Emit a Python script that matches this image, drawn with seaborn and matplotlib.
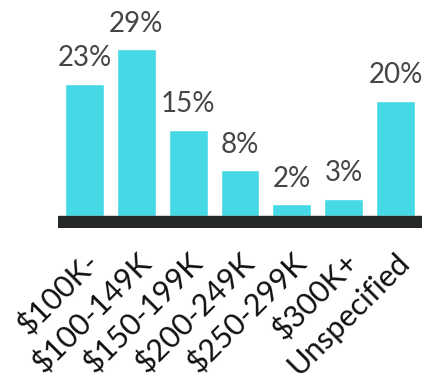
import matplotlib
matplotlib.use("Agg")
import matplotlib.pyplot as plt
import seaborn as sns
import pandas as pd

categories = ["$100K-", "$100-149K", "$150-199K", "$200-249K",
              "$250-299K", "$300K+", "Unspecified"]
shares = [23, 29, 15, 8, 2, 3, 20]

df = pd.DataFrame({"income": categories, "share": shares})

sns.set_style("white")
plt.rcParams["font.family"] = ["Lato", "DejaVu Sans"]

fig = plt.figure(figsize=(4.38, 3.79), dpi=100)
W, H = 438, 379
left, right, bottom, top = 58, 422, 228, 10
ax = fig.add_axes([left / W, (H - bottom) / H, (right - left) / W, (bottom - top) / H])

bar_color = "#44d9e5"
sns.barplot(data=df, x="income", y="share", color=bar_color, width=0.75,
            saturation=1, ax=ax, zorder=2)

px_per_unit = (216 - 49) / 29.0
base_h = 12 / px_per_unit
ax.set_xlim(-0.51, len(categories) - 0.49)
ax.set_ylim(-base_h, (216 - top) / px_per_unit)
ax.axhspan(-base_h, 0, color="#252a27", zorder=3)

for i, v in enumerate(shares):
    ax.annotate(f"{v}%", (i, v), xytext=(0, 12.5), textcoords="offset points",
                ha="center", va="baseline", fontsize=20,
                color="#454545", annotation_clip=False)

for s in ax.spines.values():
    s.set_visible(False)
ax.set_yticks([])
ax.set_xlabel("")
ax.set_ylabel("")
ax.tick_params(axis="x", length=0, pad=14)
ax.set_xticks(range(len(categories)))
ax.set_xticklabels(categories, rotation=45, ha="right", rotation_mode="anchor",
                   fontsize=22, color="#111111")

fig.savefig("out.png", dpi=100)
